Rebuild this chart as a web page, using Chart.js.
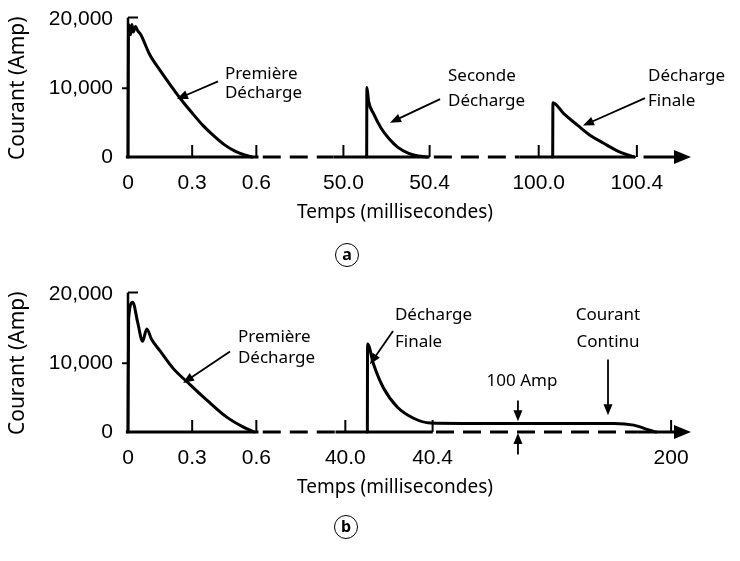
<!DOCTYPE html>
<html>
<head>
<meta charset="utf-8">
<script src="https://cdn.jsdelivr.net/npm/chart.js@4.4.1/dist/chart.umd.min.js"></script>
<style>
  html, body { margin: 0; padding: 0; background: #fff; }
  #wrap { position: relative; width: 740px; height: 561px; overflow: hidden; }
  canvas { position: absolute; left: 0; }
  #chartA { top: 0; }
  #chartB { top: 275px; }
  .tag {
    position: absolute; width: 22px; height: 22px; border: 1.5px solid #000; border-radius: 50%;
    font: bold 16px 'Noto Sans', sans-serif; text-align: center; line-height: 20px; color: #000;
  }
</style>
</head>
<body>
<div id="wrap">
  <canvas id="chartA" width="740" height="275"></canvas>
  <canvas id="chartB" width="740" height="286"></canvas>
  <div class="tag" style="left:335px;top:243px">a</div>
  <div class="tag" style="left:334px;top:515px">b</div>
</div>
<script>
// ---- data: time in ms, current in A ----
const A_FIRST_T  = [0, 0.002, 0.006, 0.012, 0.018, 0.025, 0.035, 0.045, 0.06, 0.1, 0.15, 0.2, 0.25, 0.3, 0.35, 0.4, 0.45, 0.5, 0.55, 0.58];
const A_FIRST_I  = [0, 17500, 19200, 17800, 19300, 18200, 19000, 18400, 17800, 15000, 12600, 10400, 8300, 6400, 4600, 3100, 1800, 850, 250, 0];
const A_SECOND_T = [50.108, 50.109, 50.117, 50.14, 50.173, 50.211, 50.253, 50.30, 50.347, 50.39];
const A_SECOND_I = [0, 10100, 8100, 6300, 4300, 2700, 1400, 570, 140, 0];
const A_FINAL_T  = [100.057, 100.058, 100.102, 100.159, 100.212, 100.265, 100.322, 100.363, 100.39];
const A_FINAL_I  = [0, 7900, 6300, 4600, 3100, 2000, 860, 290, 0];

const B_FIRST_T  = [0, 0.003, 0.022, 0.045, 0.068, 0.088, 0.11, 0.15, 0.21, 0.29, 0.37, 0.46, 0.54, 0.59];
const B_FIRST_I  = [0, 16500, 18900, 16000, 13200, 15000, 13500, 11800, 9300, 6900, 4600, 2200, 700, 0];
const B_FINAL_T  = [40.101, 40.102, 40.129, 40.175, 40.239, 40.313, 40.39, 60, 100, 140, 162, 175, 185, 190];
const B_FINAL_I  = [0, 12800, 9900, 6400, 3600, 2000, 1300, 1250, 1250, 1250, 1250, 1000, 300, 0];

const A_TICKS = [0, 0.3, 0.6, 50.0, 50.4, 100.0, 100.4];
const A_TICK_LABELS = ['0', '0.3', '0.6', '50.0', '50.4', '100.0', '100.4'];
const B_TICKS = [0, 0.3, 0.6, 40.0, 40.4, 200];
const B_TICK_LABELS = ['0', '0.3', '0.6', '40.0', '40.4', '200'];
const Y_TICKS = [0, 10000, 20000];

const X_TITLE = 'Temps (millisecondes)';
const Y_TITLE = 'Courant (Amp)';

// ---- broken time axis: [t0, t1, u0, u1] pieces of the drawn axis ----
const SEG_A = [[0, 0.6, 0, 0.6], [50.0, 50.4, 1.007, 1.41], [100.0, 100.4, 1.92, 2.379]];
const SEG_B = [[0, 0.6, 0, 0.6], [40.0, 40.4, 1.016, 1.424], [40.4, 200, 1.424, 2.539]];
const U_MAX = 2.632;

// baseline pieces [u0, u1, dashed]
const BASE_A = [[-0.01, 0.61, 0], [0.63, 0.96, 1], [0.96, 1.41, 0], [1.43, 1.83, 1], [1.83, 2.37, 0], [2.41, U_MAX, 0]];
const BASE_B = [[-0.01, 0.61, 0], [0.63, 0.97, 1], [0.97, 1.425, 0], [1.44, 2.38, 1], [2.38, U_MAX, 0]];

// annotations in (u, A)
const NOTES_A = [
  { text: 'Première', u: 0.453, i: 12100 }, { text: 'Décharge', u: 0.453, i: 9300 },
  { text: 'Seconde', u: 1.496, i: 11700 }, { text: 'Décharge', u: 1.496, i: 8150 },
  { text: 'Décharge', u: 2.431, i: 11700 }, { text: 'Finale', u: 2.431, i: 8150 },
];
const ARROWS_A = [[0.421, 11000, 0.229, 8430], [1.459, 8430, 1.225, 5000], [2.417, 8570, 2.127, 4570]];
const NOTES_B = [
  { text: 'Première', u: 0.514, i: 13860 }, { text: 'Décharge', u: 0.514, i: 10710 },
  { text: 'Décharge', u: 1.248, i: 17000 }, { text: 'Finale', u: 1.248, i: 13140 },
  { text: 'Courant', u: 2.244, i: 17000, align: 'center' }, { text: 'Continu', u: 2.244, i: 13140, align: 'center' },
  { text: '100 Amp', u: 1.842, i: 7430, align: 'center' },
];
const ARROWS_B = [[0.477, 11710, 0.257, 7140], [1.239, 14710, 1.131, 9860], [2.244, 10570, 2.244, 2430],
                  [1.823, 4570, 1.823, 1570], [1.823, -3290, 1.823, -140]];

const NUM_FONT = "'Liberation Sans', Arial, sans-serif";
const TEXT_FONT = "'Noto Sans', 'DejaVu Sans', sans-serif";

function makeMap(segs) {
  return t => {
    for (const s of segs) {
      if (t >= s[0] && t <= s[1]) return s[2] + (t - s[0]) / (s[1] - s[0]) * (s[3] - s[2]);
    }
    return NaN;
  };
}

function pts(ts, is, toU) {
  return ts.map((t, k) => ({ x: toU(t), y: is[k] }));
}

function arrowHead(ctx, x1, y1, x2, y2, len, half) {
  const a = Math.atan2(y2 - y1, x2 - x1);
  ctx.beginPath();
  ctx.moveTo(x1, y1);
  ctx.lineTo(x2 - Math.cos(a) * len * 0.7, y2 - Math.sin(a) * len * 0.7);
  ctx.stroke();
  ctx.beginPath();
  ctx.moveTo(x2, y2);
  ctx.lineTo(x2 - Math.cos(a) * len + Math.sin(a) * half, y2 - Math.sin(a) * len - Math.cos(a) * half);
  ctx.lineTo(x2 - Math.cos(a) * len - Math.sin(a) * half, y2 - Math.sin(a) * len + Math.cos(a) * half);
  ctx.closePath();
  ctx.fill();
}

const decorPlugin = {
  id: 'decor',
  afterDatasetsDraw(chart, args, opts) {
    const { ctx, chartArea: ca, scales: { x, y } } = chart;
    ctx.save();
    ctx.strokeStyle = '#000';
    ctx.fillStyle = '#000';

    // y axis with bracket at top and small tick at 10,000
    ctx.lineWidth = 2.5;
    ctx.beginPath();
    ctx.moveTo(ca.left, ca.top - 2);
    ctx.lineTo(ca.left, ca.bottom);
    ctx.stroke();
    ctx.lineWidth = 2;
    ctx.beginPath();
    ctx.moveTo(ca.left, ca.top - 2);
    ctx.lineTo(ca.left + 10, ca.top - 2);
    const y10 = y.getPixelForValue(10000);
    ctx.moveTo(ca.left - 6, y10);
    ctx.lineTo(ca.left, y10);
    ctx.stroke();

    // baseline: solid on drawn segments, dashed across breaks
    ctx.lineWidth = 3;
    for (const [u0, u1, dashed] of opts.base) {
      ctx.setLineDash(dashed ? [18, 9] : []);
      ctx.beginPath();
      ctx.moveTo(x.getPixelForValue(u0), ca.bottom);
      ctx.lineTo(x.getPixelForValue(u1) - (u1 === U_MAX ? 10 : 0), ca.bottom);
      ctx.stroke();
    }
    ctx.setLineDash([]);

    // axis arrow
    ctx.beginPath();
    ctx.moveTo(ca.right, ca.bottom);
    ctx.lineTo(ca.right - 17, ca.bottom - 7);
    ctx.lineTo(ca.right - 17, ca.bottom + 7);
    ctx.closePath();
    ctx.fill();

    // upward tick marks
    ctx.lineWidth = 2;
    for (const tk of x.ticks) {
      if (tk.value === 0) continue;
      const px = x.getPixelForValue(tk.value);
      ctx.beginPath();
      ctx.moveTo(px, ca.bottom);
      ctx.lineTo(px, ca.bottom - 12);
      ctx.stroke();
    }

    // x axis title, set a little left of the plot centre as in the original
    ctx.font = '19px ' + TEXT_FONT;
    ctx.textAlign = 'center';
    ctx.textBaseline = 'middle';
    ctx.fillText(X_TITLE, ca.left + 267, ca.bottom + 56);

    // notes
    ctx.font = '17px ' + TEXT_FONT;
    for (const n of opts.notes) {
      ctx.textAlign = n.align || 'left';
      ctx.fillText(n.text, x.getPixelForValue(n.u), y.getPixelForValue(n.i));
    }
    ctx.lineWidth = 1.8;
    for (const [u1, i1, u2, i2] of opts.arrows) {
      arrowHead(ctx, x.getPixelForValue(u1), y.getPixelForValue(i1),
                x.getPixelForValue(u2), y.getPixelForValue(i2), 11, 4.5);
    }
    ctx.restore();
  },
};

function lineSet(data) {
  return {
    data,
    borderColor: '#000',
    borderWidth: 3,
    pointRadius: 0,
    cubicInterpolationMode: 'monotone',
    borderCapStyle: 'round',
    borderJoinStyle: 'round',
    clip: false,
  };
}

function buildChart(id, sets, ticks, tickLabels, toU, base, notes, arrows, padBottom) {
  return new Chart(document.getElementById(id), {
    type: 'line',
    data: { datasets: sets.map(lineSet) },
    options: {
      responsive: false,
      animation: false,
      events: [],
      layout: { padding: { left: 0, right: 740 - 691, top: 17, bottom: padBottom } },
      scales: {
        x: {
          type: 'linear',
          min: 0,
          max: U_MAX,
          grid: { display: false },
          border: { display: false },
          afterBuildTicks: s => { s.ticks = ticks.map(t => ({ value: toU(t) })); },
          afterFit: s => { s.height = 70; },
          ticks: {
            autoSkip: false,
            maxRotation: 0,
            padding: 6,
            color: '#000',
            font: { family: NUM_FONT, size: 21 },
            callback: (v, k) => tickLabels[k],
          },
          title: { display: false, text: X_TITLE },
        },
        y: {
          min: 0,
          max: 20000,
          grid: { display: false },
          border: { display: false },
          afterBuildTicks: s => { s.ticks = Y_TICKS.map(v => ({ value: v })); },
          afterFit: s => { s.width = 128; },
          ticks: {
            padding: 7,
            color: '#000',
            font: { family: NUM_FONT, size: 21 },
            callback: v => v.toLocaleString('en-US'),
          },
          title: {
            display: true,
            text: Y_TITLE,
            color: '#000',
            font: { family: TEXT_FONT, size: 21 },
            padding: { top: 5, bottom: 0 },
          },
        },
      },
      plugins: {
        legend: { display: false },
        tooltip: { enabled: false },
        decor: { base, notes, arrows },
      },
    },
    plugins: [decorPlugin],
  });
}

const toUA = makeMap(SEG_A);
const toUB = makeMap(SEG_B);

buildChart('chartA',
  [pts(A_FIRST_T, A_FIRST_I, toUA), pts(A_SECOND_T, A_SECOND_I, toUA), pts(A_FINAL_T, A_FINAL_I, toUA)],
  A_TICKS, A_TICK_LABELS, toUA, BASE_A, NOTES_A, ARROWS_A, 275 - 157 - 70);

buildChart('chartB',
  [pts(B_FIRST_T, B_FIRST_I, toUB), pts(B_FINAL_T, B_FINAL_I, toUB)],
  B_TICKS, B_TICK_LABELS, toUB, BASE_B, NOTES_B, ARROWS_B, 286 - 157 - 70);
</script>
</body>
</html>
